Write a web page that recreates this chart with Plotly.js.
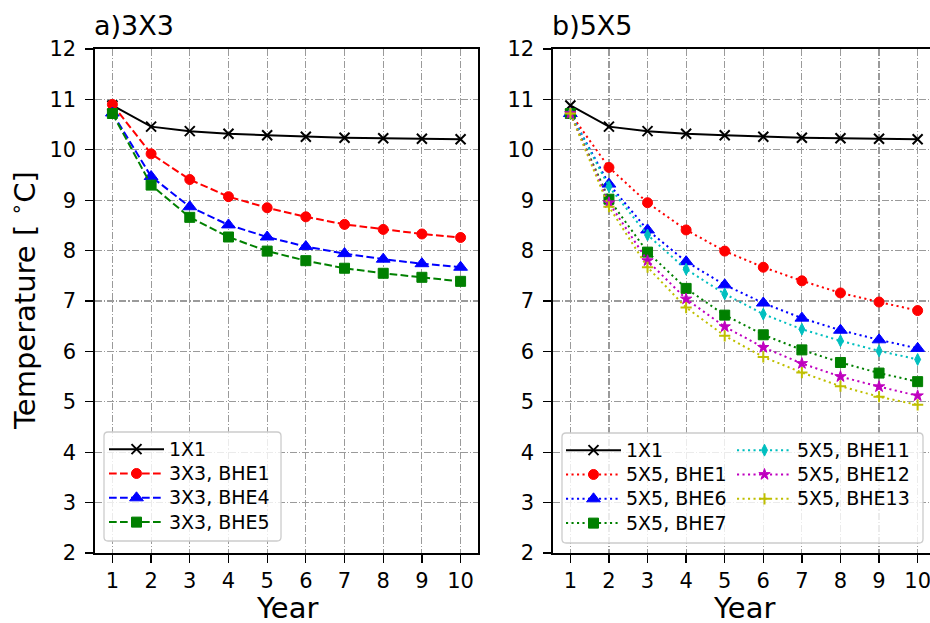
<!DOCTYPE html>
<html>
<head>
<meta charset="utf-8">
<script src="https://cdn.plot.ly/plotly-3.0.1.min.js"></script>
<style>
  html, body { margin: 0; padding: 0; overflow: hidden; background: #fff; }
  #chart { width: 940px; height: 623px; }
</style>
</head>
<body>
<div id="chart"></div>
<script>
// Mean ground temperature per year for borehole fields
const years = [1, 2, 3, 4, 5, 6, 7, 8, 9, 10];
const xTicks = [1, 2, 3, 4, 5, 6, 7, 8, 9, 10];
const yTicks = [2, 3, 4, 5, 6, 7, 8, 9, 10, 11, 12];

const single1x1 = [10.88, 10.46, 10.37, 10.32, 10.29, 10.26, 10.24, 10.23, 10.22, 10.21];

const g3bhe1 = [10.90, 9.92, 9.41, 9.07, 8.85, 8.67, 8.52, 8.42, 8.33, 8.26];
const g3bhe4 = [10.73, 9.47, 8.87, 8.51, 8.27, 8.08, 7.94, 7.83, 7.74, 7.67];
const g3bhe5 = [10.72, 9.30, 8.66, 8.27, 7.99, 7.80, 7.65, 7.55, 7.47, 7.39];

const g5bhe1  = [10.72, 9.65, 8.95, 8.41, 7.99, 7.67, 7.40, 7.16, 6.98, 6.81];
const g5bhe6  = [10.72, 9.32, 8.41, 7.78, 7.32, 6.96, 6.66, 6.42, 6.23, 6.06];
const g5bhe7  = [10.72, 9.02, 7.97, 7.25, 6.72, 6.33, 6.03, 5.78, 5.57, 5.40];
const g5bhe11 = [10.72, 9.27, 8.31, 7.63, 7.14, 6.74, 6.44, 6.21, 6.01, 5.84];
const g5bhe12 = [10.72, 8.95, 7.80, 7.04, 6.49, 6.08, 5.76, 5.50, 5.30, 5.12];
const g5bhe13 = [10.72, 8.87, 7.67, 6.87, 6.31, 5.89, 5.58, 5.31, 5.10, 4.94];

const W = 940, H = 623;
const FONT = 'DejaVu Sans, sans-serif';
const DASHED = '7.7px,3.3px';
const DOTTED = '2.1px,3.4px';

// legend rows keep a compact pitch while the label itself is drawn larger
const legendLabel = s => '<span style="font-size:19px">' + s + '</span>';

function series(y, name, color, symbol, size, dash, xaxis, yaxis, legend, open) {
  const marker = { color: color, symbol: symbol, size: size,
                   line: { color: color, width: open ? 2 : 1 } };
  return {
    x: years, y: y, name: legendLabel(name), type: 'scatter', mode: 'lines+markers',
    xaxis: xaxis, yaxis: yaxis, legend: legend,
    line: { color: color, width: 2, dash: dash },
    marker: marker
  };
}

const traces = [
  // a) 3X3 field
  series(single1x1, '1X1', '#000000', 'x-thin', 10, 'solid', 'x', 'y', 'legend', true),
  series(g3bhe1, '3X3, BHE1', '#ff0000', 'circle', 10, DASHED, 'x', 'y', 'legend'),
  series(g3bhe4, '3X3, BHE4', '#0000ff', 'triangle-up', 12, DASHED, 'x', 'y', 'legend'),
  series(g3bhe5, '3X3, BHE5', '#008000', 'square', 10, DASHED, 'x', 'y', 'legend'),
  // b) 5X5 field, first legend column
  series(single1x1, '1X1', '#000000', 'x-thin', 10, 'solid', 'x2', 'y2', 'legend2', true),
  series(g5bhe1, '5X5, BHE1', '#ff0000', 'circle', 10, DOTTED, 'x2', 'y2', 'legend2'),
  series(g5bhe6, '5X5, BHE6', '#0000ff', 'triangle-up', 12, DOTTED, 'x2', 'y2', 'legend2'),
  series(g5bhe7, '5X5, BHE7', '#008000', 'square', 10, DOTTED, 'x2', 'y2', 'legend2'),
  // b) second legend column
  series(g5bhe11, '5X5, BHE11', '#00bfbf', 'diamond-tall', 8.5, DOTTED, 'x2', 'y2', 'legend3'),
  series(g5bhe12, '5X5, BHE12', '#bf00bf', 'star', 8.5, DOTTED, 'x2', 'y2', 'legend3'),
  series(g5bhe13, '5X5, BHE13', '#bfbf00', 'cross-thin', 8, DOTTED, 'x2', 'y2', 'legend3', true)
];

// pixel helpers for the fixed-size figure
const px = v => v / W;
const py = v => 1 - v / H;

const xdomA = [px(95), px(478)];
const xdomB = [px(553), px(935)];
const ydom = [py(553), py(49)];

const gridDash = '7px,2px,1.2px,2px';

function xAxis(domain, anchor) {
  return {
    domain: domain, anchor: anchor, range: [0.55, 10.45],
    tickvals: xTicks, ticktext: xTicks.map(String),
    ticks: 'outside', ticklen: 8, tickwidth: 1.3, tickcolor: '#000',
    showline: true, linecolor: '#000', linewidth: 1.6, mirror: true,
    showgrid: true, gridcolor: '#9a9a9a', gridwidth: 1.1, griddash: gridDash,
    zeroline: false,
    tickfont: { family: FONT, size: 21, color: '#000' }
  };
}
function yAxis(anchor) {
  return {
    domain: ydom, anchor: anchor, range: [2, 12],
    tickvals: yTicks, ticktext: yTicks.map(String),
    ticks: 'outside', ticklen: 8, tickwidth: 1.3, tickcolor: '#000',
    showline: true, linecolor: '#000', linewidth: 1.6, mirror: true,
    showgrid: true, gridcolor: '#9a9a9a', gridwidth: 1.1, griddash: gridDash,
    zeroline: false, ticklabelstandoff: 5,
    tickfont: { family: FONT, size: 21, color: '#000' }
  };
}

// rounded legend frame as an SVG path in paper coordinates
function roundedBox(x0, y0, x1, y1, r) {
  const X = v => px(v).toFixed(5), Y = v => py(v).toFixed(5);
  return 'M' + X(x0 + r) + ',' + Y(y0) +
    ' L' + X(x1 - r) + ',' + Y(y0) + ' Q' + X(x1) + ',' + Y(y0) + ' ' + X(x1) + ',' + Y(y0 + r) +
    ' L' + X(x1) + ',' + Y(y1 - r) + ' Q' + X(x1) + ',' + Y(y1) + ' ' + X(x1 - r) + ',' + Y(y1) +
    ' L' + X(x0 + r) + ',' + Y(y1) + ' Q' + X(x0) + ',' + Y(y1) + ' ' + X(x0) + ',' + Y(y1 - r) +
    ' L' + X(x0) + ',' + Y(y0 + r) + ' Q' + X(x0) + ',' + Y(y0) + ' ' + X(x0 + r) + ',' + Y(y0) + ' Z';
}
const frameStyle = { type: 'path', xref: 'paper', yref: 'paper', layer: 'above',
  fillcolor: 'rgba(255,255,255,0.8)', line: { color: '#cccccc', width: 1.3 } };

const legendBase = {
  xref: 'paper', yref: 'paper', xanchor: 'left', yanchor: 'top',
  bgcolor: 'rgba(0,0,0,0)', borderwidth: 0, itemwidth: 55,
  font: { family: FONT, size: 16.4, color: '#000' }, tracegroupgap: 0
};

function label(text, x, y, size, opts) {
  return Object.assign({ text: text, xref: 'paper', yref: 'paper', x: x, y: y,
    showarrow: false, borderpad: 0, font: { family: FONT, size: size, color: '#000' } }, opts || {});
}

const layout = {
  width: W, height: H,
  margin: { l: 0, r: 0, t: 0, b: 0 },
  paper_bgcolor: '#fff', plot_bgcolor: '#fff',
  font: { family: FONT, color: '#000' },
  xaxis: xAxis(xdomA, 'y'),
  yaxis: yAxis('x'),
  xaxis2: xAxis(xdomB, 'y2'),
  yaxis2: yAxis('x2'),
  legend: Object.assign({}, legendBase, { x: px(104), y: py(432) }),
  legend2: Object.assign({}, legendBase, { x: px(561), y: py(433) }),
  legend3: Object.assign({}, legendBase, { x: px(732), y: py(433) }),
  shapes: [
    Object.assign({ path: roundedBox(104, 432, 281, 541, 4) }, frameStyle),
    Object.assign({ path: roundedBox(562, 433, 923, 543, 4) }, frameStyle)
  ],
  annotations: [
    // panel titles
    label('a)3X3', px(93), py(42), 27, { xanchor: 'left', yanchor: 'bottom' }),
    label('b)5X5', px(551), py(42), 27, { xanchor: 'left', yanchor: 'bottom' }),
    // axis titles
    label('Year', (xdomA[0] + xdomA[1]) / 2, py(608), 29, { xanchor: 'center', yanchor: 'middle' }),
    label('Year', (xdomB[0] + xdomB[1]) / 2, py(608), 29, { xanchor: 'center', yanchor: 'middle' }),
    label('Temperature [ <sup>∘</sup>C]', px(23), (ydom[0] + ydom[1]) / 2, 29,
      { xanchor: 'center', yanchor: 'middle', textangle: -90 })
  ],
  showlegend: true
};

Plotly.newPlot('chart', traces, layout, { staticPlot: true, displayModeBar: false });
</script>
</body>
</html>
